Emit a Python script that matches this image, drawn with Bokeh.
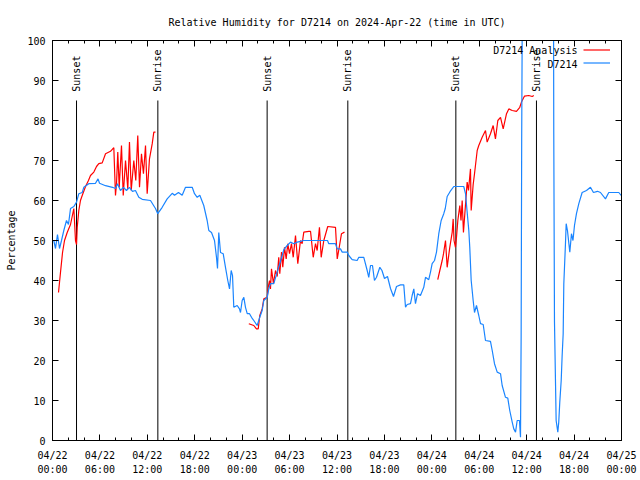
import math
from bokeh.plotting import figure
from bokeh.models import FixedTicker, LinearAxis, Range1d, Legend, LegendItem, Label
from bokeh.embed import file_html
from bokeh.resources import INLINE

FONT = "DejaVu Sans Mono"

title_text = "Relative Humidity for D7214 on 2024-Apr-22 (time in UTC)"
y_label = "Percentage"
tick_hours = [0, 6, 12, 18, 24, 30, 36, 42, 48, 54, 60, 66, 72]
tick_dates = ["04/22", "04/22", "04/22", "04/22", "04/23", "04/23", "04/23", "04/23",
              "04/24", "04/24", "04/24", "04/24", "04/25"]
tick_times = ["00:00", "06:00", "12:00", "18:00"] * 3 + ["00:00"]
minor_hours = [h for h in range(0, 73, 2) if h % 6 != 0]
y_ticks = [0, 10, 20, 30, 40, 50, 60, 70, 80, 90, 100]

sunset_hours = [3.04, 27.16, 51.04]
sunrise_hours = [13.33, 37.37, 61.24]
sun_line_top = [85, 85, 85]

# D7214 observed RH (hours since 2024-04-22 00:00 UTC)
obs_hours = [0.16, 0.38, 0.63, 0.89, 1.14, 1.43, 1.77, 2.02, 2.28, 2.70, 3.04, 3.33, 3.76, 3.96,
             4.59, 5.44, 5.76, 5.95, 6.71, 7.59, 7.97, 8.22, 8.60, 8.98, 9.36, 9.74, 10.12, 10.50,
             10.92, 11.35, 12.40, 13.03, 13.32, 13.88, 14.51, 15.15, 15.44, 15.94, 16.41, 16.83,
             17.68, 17.97, 18.31, 18.64, 19.14, 19.57, 19.78, 20.12, 20.50, 20.75, 20.88, 21.04,
             21.26, 21.60, 21.89, 22.18, 22.40, 22.61, 22.78, 22.94, 23.37, 23.66, 23.79, 24.00,
             24.21, 24.42, 24.64, 24.93, 25.18, 25.47, 25.90, 26.23, 26.53, 26.74, 27.17, 27.37,
             27.58, 28.00, 28.43, 28.76, 29.06, 29.27, 29.70, 30.12, 30.53, 30.96, 31.38, 31.76,
             34.80, 34.96, 35.81, 36.03, 36.44, 36.66, 37.29, 37.49, 37.92, 38.55, 38.76, 39.39,
             39.82, 40.02, 40.24, 40.49, 40.74, 41.00, 41.42, 41.69, 42.01, 42.39, 42.77, 43.15,
             43.53, 44.03, 44.45, 44.67, 44.88, 45.30, 45.51, 45.72, 45.93, 46.19, 46.56, 46.98,
             47.20, 47.61, 47.83, 48.04, 48.34, 48.59, 48.88, 49.18, 49.51, 49.70, 49.94, 50.30,
             50.78, 52.04, 52.26, 52.68, 52.80, 52.98, 53.23, 53.40, 53.65, 53.94, 54.16, 54.50,
             54.79, 55.42, 55.64, 55.93, 56.27, 56.69, 56.90, 57.32, 57.61, 57.86, 58.17, 58.37,
             58.59, 58.80, 59.09, 59.22, 59.30, 59.37, 59.47, 63.39, 63.43, 63.52, 63.73, 63.94,
             64.06, 64.19, 64.37, 64.49, 64.62, 64.70, 64.91, 65.00, 65.16, 65.46, 65.67, 65.86,
             66.05, 66.30, 66.60, 67.02, 67.57, 68.07, 68.45, 68.96, 69.34, 69.97, 70.39, 70.99,
             71.66, 71.96]
obs_rh = [50.0, 48.0, 51.5, 48.0, 50.0, 52.5, 55.0, 54.0, 58.0, 58.5, 59.6, 61.7, 62.0, 63.3,
          64.2, 64.3, 65.4, 64.3, 63.7, 63.3, 63.0, 64.2, 62.5, 63.3, 62.5, 63.3, 62.3, 62.5,
          60.8, 60.3, 60.0, 58.0, 56.7, 58.3, 60.4, 61.8, 61.3, 62.0, 61.3, 63.3,
          63.3, 61.7, 60.8, 61.3, 58.75, 55.0, 52.5, 52.0, 50.0, 45.8, 43.0, 52.0,
          47.0, 46.7, 43.3, 40.0, 37.9, 42.5, 41.2, 33.3, 33.75, 32.9, 32.0, 35.0,
          35.8, 33.3, 31.7, 31.7, 30.8, 30.0, 28.75, 30.8, 32.5, 35.0, 35.8, 37.9,
          39.2, 39.2, 42.1, 44.2, 46.25, 47.7, 48.75, 49.6, 49.2, 49.6, 49.8, 50.0,
          50.0, 49.2, 49.2, 47.9, 47.9, 47.1, 47.1, 46.25, 45.2, 45.0, 45.8, 45.8,
          42.5, 40.8, 43.75, 43.75, 40.0, 40.8, 43.3, 42.5, 40.5, 41.0, 38.0, 36.0,
          38.5, 38.9, 38.9, 33.3, 34.0, 34.2, 36.25, 37.9, 34.2, 36.7, 36.25, 38.3,
          40.8, 40.2, 42.1, 44.2, 45.0, 47.1, 51.7, 55.0, 56.7, 58.0, 61.0, 62.2,
          63.5, 63.5, 61.7, 52.5, 48.3, 40.0, 35.0, 32.0, 33.75, 31.25, 29.2, 29.0,
          25.0, 24.8, 22.5, 19.2, 17.1, 16.7, 13.75, 10.8, 10.6, 7.5, 4.6, 2.9,
          2.1, 5.0, 5.0, 0.8, 25.8, 75.0, 118.0, 118.0, 76.7, 29.6, 5.0, 2.1,
          4.6, 9.6, 15.0, 21.25, 26.7, 39.2, 49.2, 54.2, 52.5, 47.1, 51.7, 50.0,
          53.75, 56.7, 59.2, 62.0, 62.5, 63.3, 62.0, 62.3, 62.0, 60.4, 62.0, 62.0,
          62.0, 61.25]

# D7214 Analysis RH, three segments
ana1_hours = [0.76, 1.01, 1.27, 1.52, 1.86, 2.28, 2.70, 2.91, 3.04, 3.13, 3.33, 3.54, 3.76, 4.18,
              4.55, 4.81, 5.23, 5.57, 5.86, 6.29, 6.71, 7.34, 7.76, 7.97, 8.10, 8.26, 8.44, 8.73,
              8.95, 9.24, 9.53, 9.74, 9.96, 10.29, 10.54, 10.79, 11.01, 11.26, 11.51, 11.77,
              11.98, 12.27, 12.62, 12.82, 13.03]
ana1_rh = [37.0, 42.0, 47.0, 50.0, 52.0, 54.0, 58.0, 50.0, 49.0, 53.3, 57.5, 60.0, 61.25, 63.5,
           65.0, 66.25, 67.1, 68.5, 69.2, 69.4, 71.7, 72.3, 73.2, 61.25, 64.2, 72.1, 63.3, 73.75,
           61.25, 70.0, 62.9, 74.6, 62.5, 70.0, 65.0, 76.25, 63.3, 71.7, 66.7, 73.75,
           61.7, 70.4, 74.2, 77.1, 77.1]
ana2_hours = [24.84, 25.47, 25.81, 26.03, 26.23, 26.53, 26.74, 27.17, 27.29, 27.46, 27.58, 27.71,
              27.96, 28.22, 28.43, 28.63, 28.76, 28.98, 29.14, 29.36, 29.57, 29.77, 29.99, 30.24,
              30.46, 30.75, 31.04, 31.38, 31.59, 31.80, 32.43, 32.65, 32.99, 33.28, 33.49, 33.78,
              34.00, 34.33, 34.83, 35.81, 36.03, 36.32, 36.57, 36.95]
ana2_rh = [29.2, 28.75, 27.9, 27.9, 31.25, 32.9, 35.4, 35.8, 38.3, 40.0, 37.9, 42.9,
           39.2, 42.5, 41.0, 45.8, 41.7, 47.1, 43.3, 48.3, 45.4, 49.2, 46.7, 49.2,
           45.8, 51.25, 44.2, 50.0, 49.2, 52.1, 52.3, 52.3, 45.8, 49.2, 47.5, 53.3,
           45.8, 50.0, 53.5, 53.3, 45.4, 48.75, 51.7, 52.1]
ana3_hours = [48.75, 49.01, 49.31, 49.48, 49.73, 49.94, 50.27, 50.58, 50.70, 50.81, 50.99, 51.12,
              51.29, 51.54, 51.69, 51.84, 52.00, 52.47, 52.64, 52.89, 52.98, 53.23, 53.40, 53.74,
              53.94, 54.37, 54.79, 55.00, 55.42, 55.76, 56.05, 56.35, 56.69, 57.03, 57.45, 57.74,
              58.17, 58.71, 59.13, 59.34, 59.73, 60.27, 60.70, 60.90]
ana3_rh = [40.2, 42.5, 45.0, 46.7, 50.0, 43.3, 48.3, 52.1, 55.4, 50.0, 48.3, 50.8,
           55.0, 58.75, 55.0, 60.0, 52.0, 64.6, 62.5, 67.9, 57.5, 64.0, 66.7, 72.5,
           73.75, 75.8, 77.5, 74.6, 76.7, 78.75, 75.4, 80.0, 80.8, 77.9, 81.7, 82.9,
           82.5, 82.3, 83.3, 84.6, 86.1, 86.25, 86.0, 86.25]

series_names = ["D7214 Analysis", "D7214"]

RED = "#ff0000"
BLUE = "#1a85ff"

p = figure(width=640, height=480, output_backend="svg", toolbar_location=None,
           x_range=Range1d(0, 72), y_range=Range1d(0, 100),
           min_border_left=52, min_border_right=19, min_border_top=40, min_border_bottom=40)
p.title.text = title_text
p.title.text_font = FONT
p.title.text_font_size = "10px"
p.title.text_font_style = "normal"
p.title.text_color = "black"
p.title.align = "center"
p.title.standoff = 26
p.grid.visible = False
p.outline_line_color = "black"
p.background_fill_color = "white"
p.border_fill_color = "white"

def style_axis(ax, ticks, minors, labels=True):
    ax.ticker = FixedTicker(ticks=ticks, minor_ticks=minors)
    ax.axis_line_color = "black"
    ax.major_tick_line_color = "black"
    ax.minor_tick_line_color = "black"
    ax.major_tick_in = 6
    ax.major_tick_out = 0
    ax.minor_tick_in = 3
    ax.minor_tick_out = 0
    ax.major_label_text_font = FONT
    ax.major_label_text_font_size = "10px"
    ax.major_label_text_color = "black"
    if not labels:
        ax.major_label_overrides = {t: "" for t in ticks}
        ax.major_label_standoff = 0

xa = p.xaxis[0]
style_axis(xa, tick_hours, minor_hours)
xa.major_label_overrides = {h: d + "\n" + t for h, d, t in zip(tick_hours, tick_dates, tick_times)}
xa.major_label_standoff = 9
xa.major_label_text_line_height = 1.3

ya = p.yaxis[0]
style_axis(ya, y_ticks, [])
ya.major_label_standoff = 7
ya.axis_label = y_label
ya.axis_label_text_font = FONT
ya.axis_label_text_font_size = "10px"
ya.axis_label_text_font_style = "normal"
ya.axis_label_text_color = "black"
ya.axis_label_standoff = 7

top = LinearAxis()
style_axis(top, tick_hours, minor_hours, labels=False)
p.add_layout(top, "above")
right = LinearAxis()
style_axis(right, y_ticks, [], labels=False)
p.add_layout(right, "right")

# sun lines and labels
p.segment(x0=sunset_hours, y0=[0] * 3, x1=sunset_hours, y1=sun_line_top, color="black", line_width=1)
p.segment(x0=sunrise_hours, y0=[0] * 3, x1=sunrise_hours, y1=sun_line_top, color="black", line_width=1)
for h in sunset_hours:
    p.add_layout(Label(x=h, y=87.2, text="Sunset", angle=math.pi / 2, text_align="left",
                       text_baseline="middle", text_font=FONT, text_font_size="10px", text_color="black"))
for h in sunrise_hours:
    p.add_layout(Label(x=h, y=87.2, text="Sunrise", angle=math.pi / 2, text_align="left",
                       text_baseline="middle", text_font=FONT, text_font_size="10px", text_color="black"))

red_r = p.multi_line(xs=[ana1_hours, ana2_hours, ana3_hours], ys=[ana1_rh, ana2_rh, ana3_rh],
                     line_color=RED, line_width=1.2)
blue_r = p.line(obs_hours, obs_rh, line_color=BLUE, line_width=1.2)

# gnuplot-style key: text on the left, line sample on the right
legend = Legend(items=[LegendItem(label="", renderers=[red_r]),
                       LegendItem(label="", renderers=[blue_r])],
                location=(531, 371), glyph_width=27, glyph_height=13, label_height=13,
                label_text_font_size="10px", label_standoff=0, label_width=0,
                padding=0, margin=0, spacing=0, border_line_alpha=0, background_fill_alpha=0)
p.add_layout(legend)
p.add_layout(Label(x=66.43, y=97.5, text=series_names[0], text_align="right", text_baseline="middle",
                   text_font=FONT, text_font_size="10px", text_color="black"))
p.add_layout(Label(x=66.43, y=94.1, text=series_names[1], text_align="right", text_baseline="middle",
                   text_font=FONT, text_font_size="10px", text_color="black"))

open("out.html", "w").write(file_html(p, INLINE))
